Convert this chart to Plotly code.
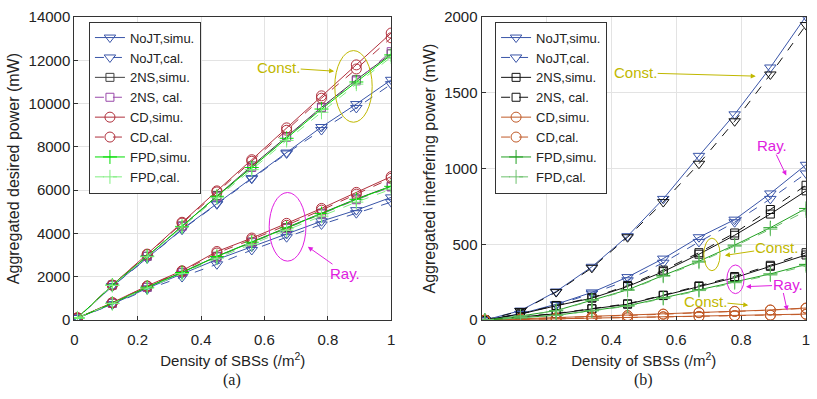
import plotly.graph_objects as go

# density of SBSs
x = [0.01, 0.12, 0.23, 0.34, 0.45, 0.56, 0.67, 0.78, 0.89, 1.0]

# (a) aggregated desired power, mW
a_nojt_simu_const = [100, 1580, 2870, 4200, 5380, 6560, 7740, 8920, 9980, 11100]
a_nojt_cal_const = [100, 1560, 2850, 4180, 5350, 6530, 7700, 8780, 9800, 10900]
a_2ns_simu_const = [100, 1620, 2950, 4350, 5750, 7120, 8470, 9830, 11100, 12300]
a_2ns_cal_const = [100, 1620, 2950, 4320, 5700, 7050, 8450, 9800, 11050, 12400]
a_cd_simu_const = [100, 1620, 3050, 4520, 5970, 7410, 8880, 10360, 11790, 13260]
a_cd_cal_const = [100, 1620, 3030, 4480, 5920, 7340, 8770, 10250, 11600, 13040]
a_fpd_simu_const = [100, 1620, 2950, 4330, 5720, 7050, 8400, 9750, 11000, 12250]
a_fpd_cal_const = [100, 1600, 2930, 4300, 5650, 6950, 8300, 9600, 10900, 12150]

a_nojt_simu_ray = [100, 740, 1470, 2140, 2800, 3390, 3980, 4570, 5080, 5670]
a_nojt_cal_ray = [100, 720, 1420, 1990, 2580, 3240, 3830, 4420, 4940, 5450]
a_2ns_simu_ray = [100, 780, 1520, 2210, 2950, 3610, 4270, 4940, 5600, 6190]
a_2ns_cal_ray = [100, 780, 1510, 2190, 2920, 3580, 4230, 4900, 5560, 6150]
a_cd_simu_ray = [100, 810, 1580, 2280, 3170, 3790, 4470, 5160, 5900, 6630]
a_cd_cal_ray = [100, 800, 1560, 2250, 3100, 3720, 4380, 5080, 5820, 6550]
a_fpd_simu_ray = [100, 780, 1520, 2200, 2940, 3600, 4260, 4920, 5580, 6180]
a_fpd_cal_ray = [100, 770, 1480, 2150, 2860, 3500, 4150, 4800, 5450, 6050]

# (b) aggregated interfering power, mW
b_nojt_simu_const = [0, 63, 189, 352, 554, 800, 1084, 1358, 1667, 2006]
b_nojt_cal_const = [0, 60, 185, 345, 547, 779, 1032, 1312, 1621, 1947]
b_2ns_simu_const = [0, 40, 95, 145, 222, 320, 435, 560, 700, 853]
b_2ns_cal_const = [0, 42, 97, 148, 228, 330, 445, 575, 730, 890]
b_cd_simu_const = [0, 8, 15, 22, 30, 40, 50, 58, 67, 80]
b_cd_cal_const = [0, 7, 14, 21, 29, 39, 49, 57, 66, 78]
b_fpd_simu_const = [0, 27, 63, 133, 200, 295, 389, 495, 610, 737]
b_fpd_cal_const = [0, 26, 61, 130, 196, 290, 382, 488, 600, 720]

b_nojt_simu_ray = [0, 42, 105, 183, 284, 406, 547, 663, 836, 1025]
b_nojt_cal_ray = [0, 40, 100, 175, 263, 379, 516, 646, 800, 968]
b_2ns_simu_ray = [0, 21, 42, 74, 105, 162, 222, 280, 355, 430]
b_2ns_cal_ray = [0, 22, 44, 76, 108, 165, 226, 288, 362, 445]
b_cd_simu_ray = [0, 4, 8, 12, 16, 22, 25, 30, 33, 40]
b_cd_cal_ray = [0, 4, 8, 12, 16, 21, 24, 29, 32, 38]
b_fpd_simu_ray = [0, 15, 32, 63, 95, 147, 200, 253, 305, 368]
b_fpd_cal_ray = [0, 15, 31, 61, 92, 143, 195, 247, 298, 358]

names = ["NoJT,simu.", "NoJT,cal.", "2NS,simu.", "2NS, cal.",
         "CD,simu.", "CD,cal.", "FPD,simu.", "FPD,cal."]
symbols = ["triangle-down-open", "triangle-down-open", "square-open", "square-open",
           "circle-open", "circle-open", "cross-thin", "cross-thin"]
msizes = [10, 10, 8, 8, 10, 10, 10, 10]
dashes = ["solid", "dash"] * 4

colors_a = ["#3a55a8", "#3a55a8", "#404040", "#9a4aaa",
            "#b0303c", "#b0303c", "#00dd00", "#80ee80"]
colors_b = ["#3a55a8", "#3a55a8", "#111111", "#111111",
            "#c05a28", "#c05a28", "#22a022", "#6cc06c"]

series_a = [
    (a_nojt_simu_const, a_nojt_simu_ray), (a_nojt_cal_const, a_nojt_cal_ray),
    (a_2ns_simu_const, a_2ns_simu_ray), (a_2ns_cal_const, a_2ns_cal_ray),
    (a_cd_simu_const, a_cd_simu_ray), (a_cd_cal_const, a_cd_cal_ray),
    (a_fpd_simu_const, a_fpd_simu_ray), (a_fpd_cal_const, a_fpd_cal_ray),
]
series_b = [
    (b_nojt_simu_const, b_nojt_simu_ray), (b_nojt_cal_const, b_nojt_cal_ray),
    (b_2ns_simu_const, b_2ns_simu_ray), (b_2ns_cal_const, b_2ns_cal_ray),
    (b_cd_simu_const, b_cd_simu_ray), (b_cd_cal_const, b_cd_cal_ray),
    (b_fpd_simu_const, b_fpd_simu_ray), (b_fpd_cal_const, b_fpd_cal_ray),
]

YEL = "#c0b800"
MAG = "#e020e0"
FONT = "Liberation Sans, Arial, sans-serif"
TXT = "#222222"

fig = go.Figure()


def add_traces(series, colors, xa, ya, legend, grp, black_nojt_cal=False):
    for i, (yc, yr) in enumerate(series):
        for j, yy in enumerate([yc, yr]):
            col = colors[i]
            # in (b) the Const. NoJT cal. curve is drawn in black
            if black_nojt_cal and i == 1 and j == 0:
                col = "#111111"
            fig.add_trace(go.Scatter(
                x=x, y=yy, mode="lines+markers", name=names[i],
                xaxis=xa, yaxis=ya, legend=legend,
                legendgroup=grp + str(i), showlegend=(j == 1),
                line=dict(color=col, width=1, dash=dashes[i]),
                marker=dict(symbol=symbols[i], size=msizes[i], color=col,
                            line=dict(color=col, width=1)),
            ))


add_traces(series_a, colors_a, "x", "y", "legend", "a")
add_traces(series_b, colors_b, "x2", "y2", "legend2", "b", black_nojt_cal=True)

ax_common = dict(range=[0, 1], tickvals=[0, 0.2, 0.4, 0.6, 0.8, 1],
                 ticktext=["0", "0.2", "0.4", "0.6", "0.8", "1"],
                 showgrid=True, gridcolor="#e3e3e3", zeroline=False,
                 showline=True, mirror=True, linecolor="#333333", linewidth=1,
                 ticks="inside", ticklen=4, tickcolor="#333333",
                 ticklabelstandoff=6, ticklabeloverflow="allow",
                 tickfont=dict(size=15, color=TXT, family=FONT),
                 title=dict(text="Density of SBSs (/m<sup>2</sup>)",
                            font=dict(size=15, color=TXT, family=FONT),
                            standoff=8))
ay_common = dict(showgrid=True, gridcolor="#e3e3e3", zeroline=False,
                 showline=True, mirror=True, linecolor="#333333", linewidth=1,
                 ticks="inside", ticklen=4, tickcolor="#333333", tickformat="d",
                 ticklabeloverflow="allow",
                 tickfont=dict(size=15, color=TXT, family=FONT))

fig.update_layout(
    width=817, height=399,
    margin=dict(l=0, r=0, t=0, b=0),
    paper_bgcolor="white", plot_bgcolor="white",
    font=dict(family=FONT, color=TXT),
    xaxis=dict(domain=[0.0869, 0.4786], anchor="y", **ax_common),
    xaxis2=dict(domain=[0.5903, 0.9914], anchor="y2", **ax_common),
    yaxis=dict(domain=[0.1855, 0.979], anchor="x", range=[0, 14000], dtick=2000,
               title=dict(text="Aggregated desired power (mW)",
                          font=dict(size=16, color=TXT, family=FONT), standoff=4),
               **ay_common),
    yaxis2=dict(domain=[0.1855, 0.979], anchor="x2", range=[0, 2000], dtick=500,
                title=dict(text="Aggregated interfering power (mW)",
                           font=dict(size=16, color=TXT, family=FONT), standoff=4),
                **ay_common),
    legend=dict(x=0.105, y=0.967, xanchor="left", yanchor="top",
                bgcolor="white", bordercolor="#333333", borderwidth=1,
                font=dict(size=13, family=FONT, color=TXT), tracegroupgap=0),
    legend2=dict(x=0.607, y=0.967, xanchor="left", yanchor="top",
                 bgcolor="white", bordercolor="#333333", borderwidth=1,
                 font=dict(size=13, family=FONT, color=TXT), tracegroupgap=0),
)

# ellipses
ellipses = [
    ("x", "y", 0.822, 9140, 0.94, 12450, YEL),
    ("x", "y", 0.615, 2726, 0.731, 5894, MAG),
    ("x2", "y2", 0.685, 326, 0.735, 541, YEL),
    ("x2", "y2", 0.756, 175, 0.809, 364, MAG),
]
for xr, yr, x0, y0, x1, y1, c in ellipses:
    fig.add_shape(type="circle", xref=xr, yref=yr, x0=x0, y0=y0, x1=x1, y1=y1,
                  line=dict(color=c, width=1))

# labels with arrows: (xref, yref, text, text centre x, y, arrow head x, y, colour)
labels = [
    ("x", "y", "Const.", 0.645, 11660, 0.82, 11500, YEL),
    ("x", "y", "Ray.", 0.855, 2170, 0.737, 3390, MAG),
    ("x2", "y2", "Const.", 0.475, 1632, 0.845, 1610, YEL),
    ("x2", "y2", "Ray.", 0.895, 1152, 0.939, 954, MAG),
    ("x2", "y2", "Const.", 0.908, 478, 0.75, 427, YEL),
    ("x2", "y2", "Ray.", 0.943, 232, 0.815, 221, MAG),
    ("x2", "y2", "Const.", 0.69, 126, 0.822, 99, YEL),
]
for xr, yr, t, tx, ty, hx, hy, c in labels:
    fig.add_annotation(xref=xr, yref=yr, x=hx, y=hy, ax=tx, ay=ty,
                       axref=xr, ayref=yr, text=t, showarrow=True,
                       arrowhead=2, arrowsize=1, arrowwidth=1, arrowcolor=c,
                       borderpad=0, font=dict(size=15, color=c, family=FONT))
# second arrow from the lower "Ray." label in (b)
fig.add_annotation(xref="x2", yref="y2", x=0.942, y=63, ax=0.929, ay=189,
                   axref="x2", ayref="y2", text="", showarrow=True,
                   arrowhead=2, arrowsize=1, arrowwidth=1, arrowcolor=MAG)

for t, px in [("(a)", 0.282), ("(b)", 0.79)]:
    fig.add_annotation(xref="paper", yref="paper", x=px, y=0.03, text=t,
                       showarrow=False, xanchor="center", yanchor="middle",
                       font=dict(size=16, family="Liberation Serif, Times New Roman, serif",
                                 color=TXT))

fig.write_html("out.html", config={"displayModeBar": False},
               post_script="document.body.style.margin='0';")
